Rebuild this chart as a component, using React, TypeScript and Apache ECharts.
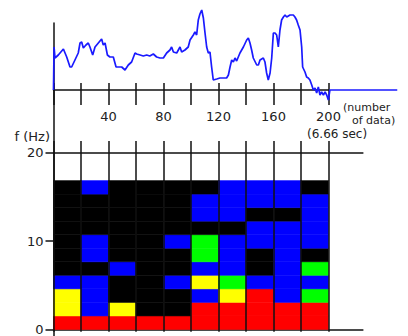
import React, { useEffect, useRef } from "react";
import * as echarts from "echarts";

// ---- Top chart: waveform (sample index vs. amplitude) ----
const sampleIndex = [
  0, 0.4, 1.1, 3.5, 7.2, 9.6, 12, 13.2, 15.6, 18,
  19.3, 20.5, 21.7, 23.6, 25.3, 26.5, 28.5, 30.2, 32.6, 35,
  36.2, 37.5, 39.2, 41, 43.5, 45.5, 47.2, 49.6, 52, 54.4,
  56.8, 59.3, 60.5, 63, 65.3, 67.8, 70, 72.6, 75, 77.4,
  79.9, 82.3, 84.7, 85.9, 87.2, 89.6, 92, 93.2, 95.6, 98,
  99.3, 101.7, 102.9, 104.1, 105.3, 106.5, 107.8, 109, 110.2, 111.4,
  112.6, 113.8, 115, 116.2, 118.7, 121.1, 123.5, 125.9, 127.2, 128.4,
  129.6, 130.8, 132, 133.2, 135.6, 138.1, 140.5, 141.7, 142.9, 144.1,
  145.3, 147.8, 149, 150.2, 152.6, 153.8, 155, 156.2, 157.5, 158.7,
  159.9, 161.1, 162.3, 163.5, 164.7, 165.9, 167.2, 168.4, 169.6, 172,
  174.4, 175.6, 176.8, 178, 179.3, 180.5, 181.2, 182.9, 184.1, 185.3,
  186.5, 187.8, 189, 190.2, 191.4, 192.6, 193.8, 195, 196.3, 197.5,
  198.7, 199.9, 201, 250,
];
const amplitude = [
  0, 43, 32, 35, 41, 33, 23, 23, 30, 37,
  47, 48, 42, 45, 47, 43, 35, 43, 47, 51,
  45, 47, 35, 33, 33, 23, 23, 23, 20, 25,
  28, 37, 36, 35, 34, 35, 34, 36, 33, 32,
  32, 37, 40, 43, 38, 37, 43, 38, 40, 43,
  50, 55, 58, 55, 70, 76, 80, 72, 57, 43,
  37, 38, 23, 10, 11, 12, 12, 12, 15, 23,
  30, 28, 32, 29, 37, 43, 50, 52, 47, 40,
  32, 25, 25, 30, 32, 28, 17, 10, 17, 32,
  57, 57, 55, 43, 60, 70, 73, 75, 73, 75,
  75, 73, 70, 65, 60, 43, 23, 18, 13, 12,
  10, 5, 0, 2, -3, 3, -5, -2, -5, -2,
  -5, -10, 0, 0,
];

// ---- Bottom chart: spectrum levels per 20-sample column, rows bottom -> top ----
const COLUMN_SPAN = 20; // samples per column
const FREQ_BIN_HZ = 1.53; // height of one frequency bin
// level: 0 black, 1 blue, 2 green, 3 yellow, 4 red
const spectrumLevels = [
  [4, 3, 3, 1, 0, 0, 0, 0, 0, 0, 0],
  [4, 1, 1, 1, 0, 1, 1, 0, 0, 0, 1],
  [4, 3, 0, 0, 1, 0, 0, 0, 0, 0, 0],
  [4, 0, 0, 0, 0, 0, 0, 0, 0, 0, 0],
  [4, 0, 0, 1, 0, 0, 1, 0, 0, 0, 0],
  [4, 4, 1, 3, 1, 2, 2, 0, 1, 1, 0],
  [4, 4, 3, 2, 1, 1, 1, 0, 1, 1, 1],
  [4, 4, 4, 1, 0, 0, 1, 1, 0, 1, 1],
  [4, 4, 1, 1, 1, 1, 1, 1, 0, 1, 1],
  [4, 4, 2, 1, 2, 0, 1, 1, 1, 1, 0],
];
const levelColors = ["#000000", "#0000ff", "#00ff00", "#ffff00", "#ff0000"];
const xLabelValues = [40, 80, 120, 160, 200];

const FONT = '"DejaVu Sans", sans-serif';
const AXIS_COLOR = "#111";
const TEXT_COLOR = "#222";

export default function App() {
  const ref = useRef<HTMLDivElement>(null);

  useEffect(() => {
    if (!ref.current) return;
    const chart = echarts.init(ref.current, undefined, { renderer: "svg" });

    const waveData = sampleIndex.map((x, i) => [x, amplitude[i]]);
    const cellData: number[][] = [];
    spectrumLevels.forEach((col, c) =>
      col.forEach((lvl, r) => cellData.push([c, r, lvl]))
    );

    const axisLineStyle = { color: AXIS_COLOR, width: 1.5 };
    const hidden = {
      axisLine: { show: false },
      axisTick: { show: false },
      axisLabel: { show: false },
      splitLine: { show: false },
    };

    chart.setOption({
      animation: false,
      grid: [
        { left: 53.5, top: 23, width: 275, height: 67 },
        { left: 53.5, top: 152.5, width: 309.4, height: 179.2 },
        { left: 53.5, top: 141, width: 275, height: 190.7 },
        { left: 53.5, top: 90, width: 20, height: 246 },
        { left: 53.5, top: 23, width: 343.75, height: 67 },
      ],
      xAxis: [
        {
          gridIndex: 0,
          type: "value",
          min: 0,
          max: 200,
          interval: 20,
          position: "bottom",
          axisLine: { onZero: false, lineStyle: axisLineStyle },
          axisTick: { length: 15, lineStyle: axisLineStyle },
          axisLabel: {
            margin: 20,
            fontFamily: FONT,
            fontSize: 13,
            color: TEXT_COLOR,
            formatter: (v: number) => (xLabelValues.includes(v) ? String(v) : ""),
          },
          splitLine: { show: false },
        },
        {
          gridIndex: 0,
          type: "value",
          min: 0,
          max: 200,
          interval: 20,
          position: "bottom",
          axisLine: { show: false, onZero: false },
          axisTick: { inside: true, length: 7, lineStyle: axisLineStyle },
          axisLabel: { show: false },
          splitLine: { show: false },
        },
        {
          gridIndex: 1,
          type: "value",
          min: 0,
          max: 225,
          position: "bottom",
          axisLine: { onZero: false, lineStyle: axisLineStyle },
          axisTick: { show: false },
          axisLabel: { show: false },
          splitLine: { show: false },
        },
        {
          gridIndex: 1,
          type: "value",
          min: 0,
          max: 225,
          position: "top",
          axisLine: { onZero: false, lineStyle: axisLineStyle },
          axisTick: { show: false },
          axisLabel: { show: false },
          splitLine: { show: false },
        },
        {
          gridIndex: 2,
          type: "value",
          min: 0,
          max: 200,
          interval: 20,
          z: 5,
          axisLine: { show: false },
          axisTick: { show: false },
          axisLabel: { show: false },
          splitLine: { show: true, lineStyle: { color: AXIS_COLOR, width: 1.5 } },
        },
        { gridIndex: 3, type: "value", min: 0, max: 1, ...hidden },
        { gridIndex: 4, type: "value", min: 0, max: 250, ...hidden },
      ],
      yAxis: [
        {
          gridIndex: 0,
          type: "value",
          min: 0,
          max: 67,
          axisLine: { show: true, onZero: false, lineStyle: axisLineStyle },
          axisTick: { show: false },
          axisLabel: { show: false },
          splitLine: { show: false },
        },
        {
          gridIndex: 1,
          type: "value",
          min: 0,
          max: 20,
          interval: 10,
          axisLine: { show: false, onZero: false },
          axisTick: { show: true, length: 8, lineStyle: axisLineStyle },
          axisLabel: { margin: 10, fontFamily: FONT, fontSize: 13, color: TEXT_COLOR },
          splitLine: { show: false },
        },
        { gridIndex: 2, type: "value", min: 0, max: 1, ...hidden },
        {
          gridIndex: 3,
          type: "value",
          min: 0,
          max: 1,
          axisLine: { show: true, onZero: false, lineStyle: axisLineStyle },
          axisTick: { show: false },
          axisLabel: { show: false },
          splitLine: { show: false },
        },
        { gridIndex: 4, type: "value", min: 0, max: 67, ...hidden },
      ],
      series: [
        {
          type: "line",
          xAxisIndex: 6,
          yAxisIndex: 4,
          data: waveData,
          showSymbol: false,
          symbol: "none",
          clip: false,
          z: 4,
          lineStyle: { color: "#1a1aff", width: 1.7 },
        },
        {
          type: "custom",
          xAxisIndex: 2,
          yAxisIndex: 1,
          data: cellData,
          clip: false,
          z: 2,
          renderItem: (_params: any, api: any) => {
            const c = api.value(0);
            const r = api.value(1);
            const lvl = api.value(2);
            const p0 = api.coord([c * COLUMN_SPAN, r * FREQ_BIN_HZ]);
            const p1 = api.coord([(c + 1) * COLUMN_SPAN, (r + 1) * FREQ_BIN_HZ]);
            const color = levelColors[lvl];
            return {
              type: "rect",
              shape: { x: p0[0], y: p1[1], width: p1[0] - p0[0], height: p0[1] - p1[1] },
              style: { fill: color, stroke: color, lineWidth: 0.5 },
            };
          },
        },
      ],
      graphic: [
        {
          type: "text",
          x: 50,
          y: 136,
          style: { text: "f (Hz)", font: `13px ${FONT}`, fill: TEXT_COLOR, align: "right", verticalAlign: "middle" },
        },
        {
          type: "text",
          x: 343,
          y: 107.5,
          style: { text: "(number", font: `11px ${FONT}`, fill: TEXT_COLOR, align: "left", verticalAlign: "middle" },
        },
        {
          type: "text",
          x: 352,
          y: 120.5,
          style: { text: "of data)", font: `11px ${FONT}`, fill: TEXT_COLOR, align: "left", verticalAlign: "middle" },
        },
        {
          type: "text",
          x: 307,
          y: 134,
          style: { text: "(6.66 sec)", font: `12px ${FONT}`, fill: TEXT_COLOR, align: "left", verticalAlign: "middle" },
        },
      ],
    });

    return () => chart.dispose();
  }, []);

  return (
    <div
      ref={ref}
      style={{ position: "fixed", left: 0, top: 0, width: 408, height: 336, background: "#fff" }}
    />
  );
}
